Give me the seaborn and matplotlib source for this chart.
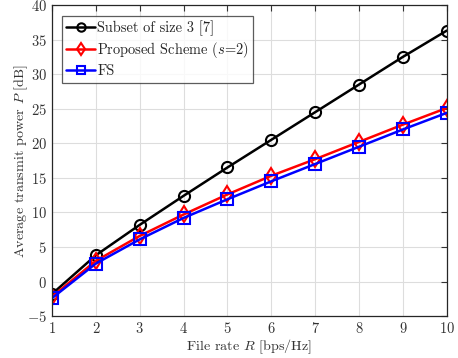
import numpy as np
import pandas as pd
import matplotlib
matplotlib.use("Agg")
import matplotlib.pyplot as plt
import seaborn as sns

# Values
rate = [1, 2, 3, 4, 5, 6, 7, 8, 9, 10]
subset3 = [-1.8, 3.8, 8.2, 12.4, 16.5, 20.5, 24.5, 28.5, 32.5, 36.3]
proposed = [-2.2, 3.0, 6.6, 9.7, 12.6, 15.3, 17.7, 20.2, 22.7, 25.1]
fs = [-2.4, 2.6, 6.1, 9.2, 11.9, 14.5, 17.0, 19.5, 22.0, 24.4]

labels = ["Subset of size 3 [7]", r"Proposed Scheme ($s$=2)", "FS"]
colors = ["black", "red", "blue"]
markers = ["o", "d", "s"]

sns.set_style("white")
plt.rcParams["font.family"] = ["cmr10", "DejaVu Serif"]
plt.rcParams["mathtext.fontset"] = "cm"
plt.rcParams["axes.formatter.use_mathtext"] = True
plt.rcParams["axes.unicode_minus"] = False

fig = plt.figure(figsize=(4.58, 3.58), dpi=100)
ax = fig.add_axes([0.1135, 0.117, 0.862, 0.869])

for y, lab, c, m in zip([subset3, proposed, fs], labels, colors, markers):
    df = pd.DataFrame({"R": rate, "P": y})
    sns.lineplot(data=df, x="R", y="P", ax=ax, color=c, marker=m, markersize=8,
                 markerfacecolor="none", markeredgecolor=c, markeredgewidth=1.5,
                 linewidth=1.8, label=lab)

ax.set_xlim(1, 10)
ax.set_ylim(-5, 40)
ax.set_xticks(range(1, 11))
ax.set_yticks(range(-5, 41, 5))
ax.grid(True, color="#dddddd", linewidth=0.8)
ax.tick_params(direction="in", top=True, right=True, labelsize=10.5, colors="#333333",
               length=4)
for s in ax.spines.values():
    s.set_color("#262626")
    s.set_linewidth(0.9)
ax.set_xlabel(r"File rate $R$ [bps/Hz]", fontsize=10.2, color="#333333")
ax.set_ylabel(r"Average transmit power $P$ [dB]", fontsize=10.2, color="#333333")
ax.yaxis.set_label_coords(-0.055, 0.5)
ax.xaxis.set_label_coords(0.5, -0.068)

leg = ax.legend(loc="upper left", bbox_to_anchor=(0.025, 0.965), fontsize=10.4,
                frameon=True, fancybox=False, edgecolor="#333333", handlelength=2.0,
                handletextpad=0.15, borderpad=0.3, labelspacing=0.3, borderaxespad=0.0,
                markerscale=0.75)
leg.get_frame().set_linewidth(0.9)

fig.savefig("out.png", dpi=100)
